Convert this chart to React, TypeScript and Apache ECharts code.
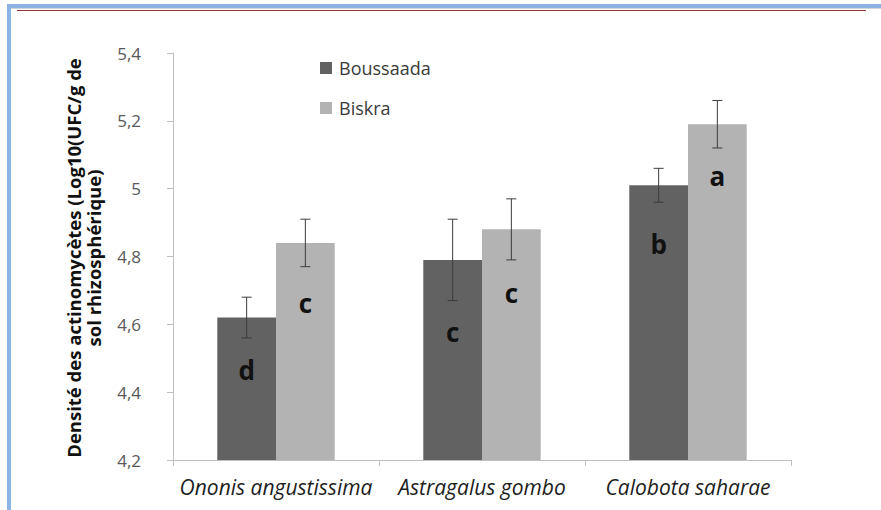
import React, { useEffect, useRef } from 'react';
import * as echarts from 'echarts';

const categories = ['Ononis angustissima', 'Astragalus gombo', 'Calobota saharae'];
const seriesNames = ['Boussaada', 'Biskra'];
const boussaadaValues = [4.62, 4.79, 5.01];
const biskraValues = [4.84, 4.88, 5.19];
const boussaadaErrors = [0.06, 0.12, 0.05];
const biskraErrors = [0.07, 0.09, 0.07];
const boussaadaLetters = ['d', 'c', 'b'];
const biskraLetters = ['c', 'c', 'a'];
const boussaadaLetterLevel = [4.465, 4.577, 4.837];
const biskraLetterLevel = [4.663, 4.692, 5.037];
const yMin = 4.2;
const yMax = 5.4;
const yInterval = 0.2;
const yTitle = 'Densité des actinomycètes (Log10(UFC/g de\nsol rhizosphérique)';

const GAP = 0.43;
const FONT = '"Open Sans", "Liberation Sans", sans-serif';
const DARK = '#626262';
const LIGHT = '#b3b3b3';

function errData(vals: number[], errs: number[]) {
  return vals.map((v, i) => [i, v - errs[i], v + errs[i]]);
}
function letterData(levels: number[]) {
  return levels.map((v, i) => [i, v]);
}

function makeErrRender(side: number) {
  return (params: any, api: any) => {
    const cat = api.value(0);
    const lo = api.coord([cat, api.value(1)]);
    const hi = api.coord([cat, api.value(2)]);
    const band = api.size([1, 0])[0];
    const bw = (band * (1 - GAP)) / 2;
    const x = lo[0] + (side * bw) / 2;
    const cap = 5;
    const st = { stroke: '#3c3c3c', lineWidth: 1 };
    return {
      type: 'group',
      children: [
        { type: 'line', shape: { x1: x, y1: lo[1], x2: x, y2: hi[1] }, style: st },
        { type: 'line', shape: { x1: x - cap, y1: lo[1], x2: x + cap, y2: lo[1] }, style: st },
        { type: 'line', shape: { x1: x - cap, y1: hi[1], x2: x + cap, y2: hi[1] }, style: st },
      ],
    };
  };
}

function makeLetterRender(side: number, letters: string[]) {
  return (params: any, api: any) => {
    const cat = api.value(0);
    const p = api.coord([cat, api.value(1)]);
    const band = api.size([1, 0])[0];
    const bw = (band * (1 - GAP)) / 2;
    const x = p[0] + (side * bw) / 2;
    return {
      type: 'text',
      x,
      y: p[1],
      style: {
        text: letters[params.dataIndex],
        fontSize: 26,
        fontWeight: 'bold',
        fontFamily: FONT,
        fill: '#111111',
        align: 'center',
        verticalAlign: 'middle',
      },
    };
  };
}

export default function App() {
  const ref = useRef<HTMLDivElement>(null);
  useEffect(() => {
    document.body.style.margin = '0';
    const chart = echarts.init(ref.current!, null, { renderer: 'svg' });
    chart.setOption({
      animation: false,
      backgroundColor: '#ffffff',
      grid: { left: 173, right: 90, top: 53, bottom: 50 },
      legend: {
        orient: 'vertical',
        left: 315,
        top: 54,
        itemWidth: 12,
        itemHeight: 12,
        itemGap: 22,
        icon: 'rect',
        data: seriesNames,
        textStyle: { fontSize: 18, color: '#3a3a3a', fontFamily: FONT, padding: [0, 0, 0, 2] },
      },
      xAxis: {
        type: 'category',
        data: categories,
        axisLine: { lineStyle: { color: '#bfbfbf', width: 1 } },
        axisTick: { show: true, length: 6, lineStyle: { color: '#bfbfbf' } },
        axisLabel: {
          interval: 0,
          fontSize: 21,
          fontStyle: 'italic',
          color: '#1e1e1e',
          fontFamily: FONT,
          margin: 16,
        },
      },
      yAxis: {
        type: 'value',
        min: yMin,
        max: yMax,
        interval: yInterval,
        splitLine: { show: false },
        axisLine: { show: true, lineStyle: { color: '#bfbfbf', width: 1 } },
        axisTick: { show: true, length: 6, lineStyle: { color: '#bfbfbf' } },
        axisLabel: {
          fontSize: 17,
          color: '#595959',
          fontFamily: FONT,
          margin: 32,
          formatter: (v: number) => String(Number(v.toFixed(1))).replace('.', ','),
        },
      },
      series: [
        {
          name: seriesNames[0],
          type: 'bar',
          data: boussaadaValues,
          barGap: '0%',
          barCategoryGap: GAP * 100 + '%',
          itemStyle: { color: DARK },
        },
        {
          name: seriesNames[1],
          type: 'bar',
          data: biskraValues,
          barGap: '0%',
          barCategoryGap: GAP * 100 + '%',
          itemStyle: { color: LIGHT },
        },
        {
          type: 'custom',
          data: errData(boussaadaValues, boussaadaErrors),
          renderItem: makeErrRender(-1),
          z: 5,
          silent: true,
        },
        {
          type: 'custom',
          data: errData(biskraValues, biskraErrors),
          renderItem: makeErrRender(1),
          z: 5,
          silent: true,
        },
        {
          type: 'custom',
          data: letterData(boussaadaLetterLevel),
          renderItem: makeLetterRender(-1, boussaadaLetters),
          z: 6,
          silent: true,
        },
        {
          type: 'custom',
          data: letterData(biskraLetterLevel),
          renderItem: makeLetterRender(1, biskraLetters),
          z: 6,
          silent: true,
        },
      ],
      graphic: [
        { type: 'rect', shape: { x: 7, y: 4, width: 874, height: 4 }, style: { fill: '#8db3e2' } },
        { type: 'rect', shape: { x: 7, y: 4, width: 4, height: 506 }, style: { fill: '#8db3e2' } },
        { type: 'rect', shape: { x: 11, y: 8, width: 870, height: 1 }, style: { fill: '#d4d4d4' } },
        { type: 'rect', shape: { x: 17, y: 10, width: 849, height: 1 }, style: { fill: '#943634' } },
        {
          type: 'text',
          x: 83,
          y: 258,
          rotation: Math.PI / 2,
          style: {
            text: yTitle,
            fontSize: 18.5,
            fontWeight: 'bold',
            fontFamily: FONT,
            fill: '#111111',
            align: 'center',
            verticalAlign: 'middle',
            lineHeight: 20,
          },
        },
      ],
    });
    return () => chart.dispose();
  }, []);
  return (
    <div
      ref={ref}
      style={{ position: 'absolute', left: 0, top: 0, width: 881, height: 510 }}
    />
  );
}
